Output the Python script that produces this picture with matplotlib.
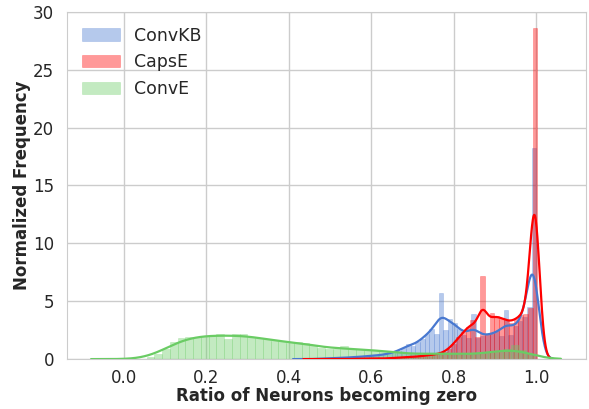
import numpy as np
import matplotlib
matplotlib.use("Agg")
import matplotlib.pyplot as plt
import seaborn as sns

sns.set_style("whitegrid")
plt.rcParams['font.family'] = ['DejaVu Sans']

# ---------------- data ----------------
series_names = ["ConvKB", "CapsE", "ConvE"]

# ConvKB histogram: 50 bins between these limits, density heights
convkb_range = (0.436, 1.0)
convkb_heights = [0, 0, 0, 0.05, 0.05, 0.05, 0.1, 0.1, 0.1, 0.15,
                  0.15, 0.2, 0.2, 0.25, 0.3, 0.3, 0.35, 0.4, 0.5, 0.6,
                  0.7, 1.0, 1.3, 1.1, 1.5, 1.7, 2.2, 2.6, 2.2, 5.7,
                  2.5, 3.5, 3.1, 2.6, 2.1, 1.8, 3.9, 1.8, 2.0, 2.1,
                  2.2, 2.4, 2.0, 4.2, 2.1, 2.9, 3.3, 3.6, 4.5, 18.2]
convkb_kde_range = (0.41, 1.04)
convkb_bw = 0.0145

# CapsE histogram
capse_range = (0.423, 1.003)
capse_heights = [0, 0, 0, 0, 0, 0, 0, 0, 0, 0,
                 0, 0, 0.05, 0.05, 0.05, 0.05, 0.05, 0.05, 0.05, 0.1,
                 0.1, 0.15, 0.15, 0.2, 0.2, 0.25, 0.3, 0.35, 0.4, 0.45,
                 0.6, 0.9, 1.3, 1.9, 2.3, 2.8, 3.4, 1.9, 7.2, 2.2,
                 4.0, 3.7, 3.5, 3.4, 3.1, 3.5, 3.8, 3.9, 4.4, 28.6]
capse_kde_range = (0.435, 1.035)
capse_bw = 0.012

# ConvE histogram
conve_range = (0.055, 0.995)
conve_heights = [0.15, 0.45, 0.85, 1.5, 1.8, 1.9, 1.95, 2.0, 2.1, 2.2,
                 1.7, 2.2, 2.15, 1.95, 1.8, 1.7, 1.6, 1.55, 1.35, 1.45,
                 1.4, 1.25, 1.0, 0.85, 0.85, 1.1, 0.85, 0.85, 0.8, 0.75,
                 0.7, 0.65, 0.5, 0.45, 0.45, 0.4, 0.45, 0.5, 0.55, 0.45,
                 0.35, 0.4, 0.45, 0.5, 0.55, 0.6, 0.9, 1.2, 0.8, 0.4]
conve_kde_range = (-0.08, 1.06)
conve_bw = 0.04

x_ticks = [0.0, 0.2, 0.4, 0.6, 0.8, 1.0]
y_ticks = [0, 5, 10, 15, 20, 25, 30]

# ---------------- styling ----------------
bar_colors = ["#4878d0", "#ff0000", "#6acc64"]
line_colors = ["#4878d0", "#ff0000", "#6acc64"]

fig = plt.figure(figsize=(5.89, 4.09), dpi=100)
ax = fig.add_axes([0.114, 0.122, 0.881, 0.849])


def draw(rng, heights, kde_rng, bw, bcolor, lcolor, label):
    heights = np.asarray(heights, dtype=float)
    edges = np.linspace(rng[0], rng[1], len(heights) + 1)
    width = edges[1] - edges[0]
    centers = (edges[:-1] + edges[1:]) / 2
    ax.bar(centers, heights, width=width, color=bcolor, alpha=0.4,
           edgecolor=bcolor, linewidth=0.4, label=label, zorder=2)
    # KDE of the histogram mass
    grid = np.linspace(kde_rng[0], kde_rng[1], 600)
    w = heights * width
    dens = (w[None, :] * np.exp(-0.5 * ((grid[:, None] - centers[None, :]) / bw) ** 2)).sum(axis=1)
    dens /= np.sqrt(2 * np.pi) * bw
    ax.plot(grid, dens, color=lcolor, lw=1.6, zorder=3)


draw(convkb_range, convkb_heights, convkb_kde_range, convkb_bw,
     bar_colors[0], line_colors[0], series_names[0])
draw(capse_range, capse_heights, capse_kde_range, capse_bw,
     bar_colors[1], line_colors[1], series_names[1])
draw(conve_range, conve_heights, conve_kde_range, conve_bw,
     bar_colors[2], line_colors[2], series_names[2])

ax.set_xlim(-0.138, 1.121)
ax.set_ylim(0, 30)
ax.set_xticks(x_ticks)
ax.set_xticklabels([f"{t:.1f}" for t in x_ticks])
ax.set_yticks(y_ticks)
ax.tick_params(labelsize=12, colors=".15")
ax.tick_params(axis="x", pad=3.5)
ax.tick_params(axis="y", pad=6)
ax.grid(True, color=".8", lw=1)
for s in ax.spines.values():
    s.set_color(".8")
ax.set_axisbelow(True)

ax.set_xlabel("Ratio of Neurons becoming zero", fontsize=12, fontweight="bold", color=".15", labelpad=0)
ax.set_ylabel("Normalized Frequency", fontsize=12, fontweight="bold", color=".15", labelpad=1)

ax.legend(loc="upper left", frameon=False, fontsize=12.5, handlelength=2.2,
          borderaxespad=0.45)

fig.savefig("out.png", dpi=100)
